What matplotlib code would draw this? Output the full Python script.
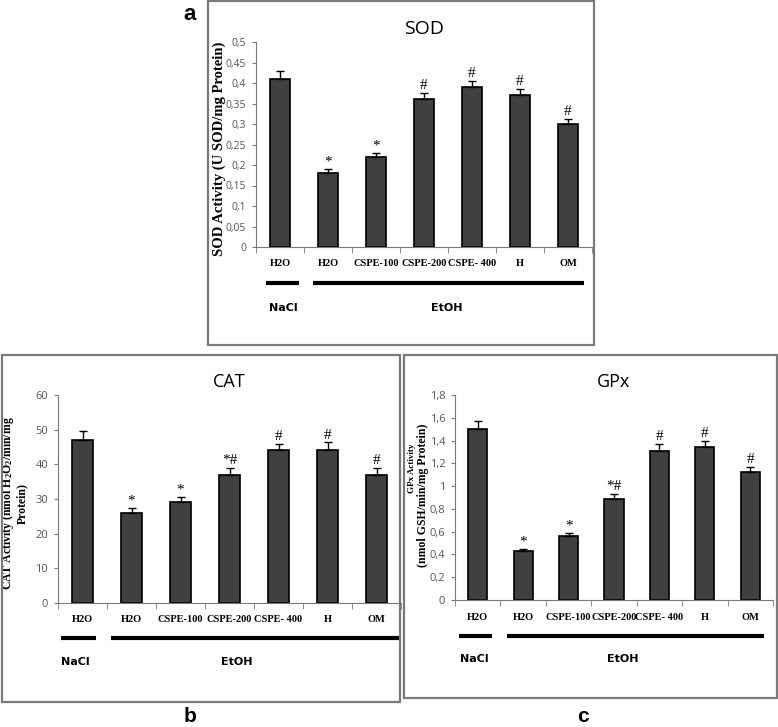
import numpy as np
import matplotlib
matplotlib.use('Agg')
import matplotlib.pyplot as plt
from matplotlib.patches import Rectangle

W, H = 778, 727

groups = ['H2O', 'H2O', 'CSPE-100', 'CSPE-200', 'CSPE- 400', 'H', 'OM']
marks = ['', '*', '*', '*#', '#', '#', '#']

sod_values = [0.41, 0.18, 0.22, 0.36, 0.39, 0.37, 0.30]
sod_err = [0.02, 0.01, 0.01, 0.016, 0.016, 0.016, 0.013]
sod_marks = ['', '*', '*', '#', '#', '#', '#']
sod_ticks = [0, 0.05, 0.1, 0.15, 0.2, 0.25, 0.3, 0.35, 0.4, 0.45, 0.5]

cat_values = [47, 26, 29, 37, 44, 44, 37]
cat_err = [2.5, 1.3, 1.5, 2.0, 2.0, 2.3, 2.0]
cat_ticks = [0, 10, 20, 30, 40, 50, 60]

gpx_values = [1.50, 0.43, 0.56, 0.89, 1.31, 1.34, 1.12]
gpx_err = [0.07, 0.02, 0.03, 0.04, 0.06, 0.06, 0.05]
gpx_ticks = [0, 0.2, 0.4, 0.6, 0.8, 1.0, 1.2, 1.4, 1.6, 1.8]

SERIF = 'Liberation Serif'
SANS = 'Open Sans'
BAR = '#404040'
GREY = '#7a7a7a'

plt.rcParams['mathtext.fontset'] = 'custom'
plt.rcParams['mathtext.rm'] = 'Liberation Serif:bold'
plt.rcParams['mathtext.it'] = 'Liberation Serif:bold'
plt.rcParams['mathtext.bf'] = 'Liberation Serif:bold'


def px_axes(left, top, right, bottom):
    return [left / W, 1 - bottom / H, (right - left) / W, (bottom - top) / H]


def comma(v):
    return ('%g' % v).replace('.', ',')


def box(fig, left, top, right, bottom):
    fig.add_artist(Rectangle((left / W, 1 - bottom / H),
                             (right - left) / W, (bottom - top) / H,
                             transform=fig.transFigure, fill=False,
                             edgecolor=GREY, linewidth=1.6))


def bar_panel(fig, rect, values, err, labels, ticks, title, ylabels,
              lines, texts, tick_size=8, title_size=13):
    ax = fig.add_axes(rect)
    x = np.arange(len(values))
    ax.bar(x, values, width=0.42, color=BAR, edgecolor='black',
           linewidth=1.2, zorder=2)
    ax.errorbar(x, values, yerr=[np.zeros(len(err)), err], fmt='none',
                ecolor='black', elinewidth=1, capsize=3, capthick=1,
                zorder=3)
    top = ticks[-1]
    for xi, v, e, m in zip(x, values, err, labels):
        if m:
            ax.text(xi, v + e + top * 0.003, m, ha='center', va='bottom',
                    fontsize=11, family=SERIF)
    ax.set_xlim(-0.5, len(values) - 0.5)
    ax.set_ylim(0, top)
    ax.set_yticks(ticks)
    ax.set_yticklabels([comma(t) for t in ticks], fontsize=tick_size,
                       family=SANS, color='#555555')
    ax.set_xticks(x)
    ax.set_xticklabels(groups, fontsize=7.5, family=SERIF,
                       fontweight='bold')
    ax.set_xticks(np.arange(-0.5, len(values), 1), minor=True)
    ax.tick_params(axis='x', which='major', length=0, pad=9)
    ax.tick_params(axis='x', which='minor', length=4, direction='out',
                   color=GREY)
    ax.tick_params(axis='y', length=3, direction='out', color=GREY, pad=4)
    for s in ['top', 'right']:
        ax.spines[s].set_visible(False)
    for s in ['left', 'bottom']:
        ax.spines[s].set_color(GREY)
    ax.set_title(title, fontsize=title_size, family=SANS, pad=6)
    for lx, ly, s, fs in ylabels:
        ax.text(lx, ly, s, transform=ax.transAxes, rotation=90,
                ha='center', va='center', fontsize=fs, family=SERIF,
                fontweight='bold', multialignment='center',
                linespacing=1.0)
    tr = ax.get_xaxis_transform()
    for x0, x1, yy in lines:
        ax.plot([x0, x1], [yy, yy], color='black', linewidth=3,
                transform=tr, clip_on=False, solid_capstyle='butt')
    for xt, yt, s in texts:
        ax.text(xt, yt, s, transform=tr, ha='center', va='center',
                fontsize=8, family='Liberation Sans Narrow',
                fontweight='bold')
    return ax


fig = plt.figure(figsize=(W / 100, H / 100), dpi=100)

# panel frames
box(fig, 208, 1, 594, 345)
box(fig, 2, 355, 400, 702)
box(fig, 404, 355, 777, 698)

# a: SOD
bar_panel(fig, px_axes(256, 42, 592, 247), sod_values, sod_err, sod_marks,
          sod_ticks, 'SOD',
          [(-0.11, 0.48, 'SOD Activity (U SOD/mg Protein)', 10.5)],
          [(-0.29, 0.40, -0.176), (0.69, 6.33, -0.176)],
          [(0.06, -0.30, 'NaCl'), (3.48, -0.30, 'EtOH')],
          tick_size=7.5, title_size=14)

# b: CAT
bar_panel(fig, px_axes(58, 395, 401, 603), cat_values, cat_err, marks,
          cat_ticks, 'CAT',
          [(-0.128, 0.48,
            'CAT Activity (nmol H$_2$O$_2$/min/mg\nProtein)', 8.5)],
          [(-0.44, 0.28, -0.168), (0.58, 6.5, -0.168)],
          [(-0.15, -0.284, 'NaCl'), (3.15, -0.284, 'EtOH')],
          tick_size=8)

# c: GPx
bar_panel(fig, px_axes(455, 395, 773, 600), gpx_values, gpx_err, marks,
          gpx_ticks, 'GPx',
          [(-0.136, 0.644, 'GPx Activity', 6.5),
           (-0.1, 0.512, '(nmol GSH/min/mg Protein)', 8.5)],
          [(-0.41, 0.31, -0.176), (0.64, 6.31, -0.176)],
          [(-0.08, -0.288, 'NaCl'), (3.19, -0.288, 'EtOH')],
          tick_size=8)

# panel letters
fig.text(190 / W, 1 - 15 / H, 'a', fontsize=16, fontweight='bold',
         family='Liberation Sans', ha='center', va='center')
fig.text(190 / W, 1 - 716 / H, 'b', fontsize=15, fontweight='bold',
         family='Liberation Sans', ha='center', va='center')
fig.text(583 / W, 1 - 716 / H, 'c', fontsize=15, fontweight='bold',
         family='Liberation Sans', ha='center', va='center')

fig.savefig('out.png', dpi=100)
